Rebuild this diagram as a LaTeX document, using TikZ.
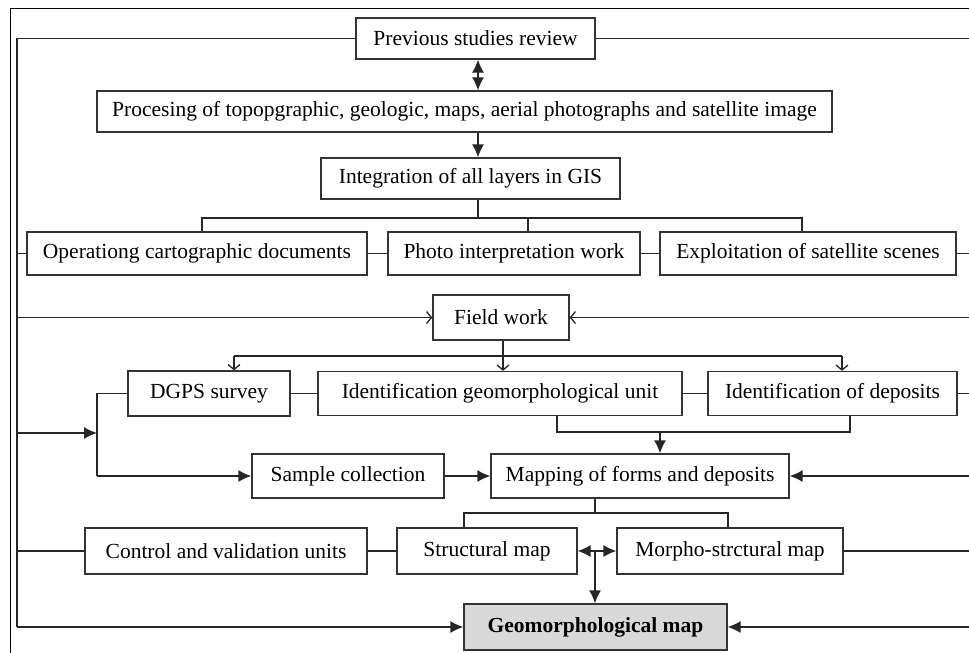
\documentclass[tikz,border=0pt]{standalone}
\usepackage{fontspec}
\setmainfont{Liberation Serif}
\usetikzlibrary{arrows.meta}
\begin{document}
\begin{tikzpicture}[x=1pt,y=-1pt,
  box/.style={draw=black!80,line width=1.3pt,fill=white,inner sep=0pt,
    font=\fontsize{21.5}{24}\selectfont},
  ln/.style={line width=1.3pt,draw=black!85},
  fa/.style={ln,-{Latex[length=13pt,width=12pt]}},
  fda/.style={ln,{Latex[length=13pt,width=12pt]}-{Latex[length=13pt,width=12pt]}},
  oa/.style={ln,-{Straight Barb[length=5pt,width=12pt]}}]
\useasboundingbox (0,0) rectangle (969,653);
\draw[line width=1pt] (10,653) -- (10,8) -- (969,8);
% nodes
\node[box,minimum width=239,minimum height=41] (prev) at (475.5,38.5) {Previous studies review};
\node[box,minimum width=735,minimum height=41] (proc) at (464.5,111.5) {Procesing of topopgraphic, geologic, maps, aerial photographs and satellite image};
\node[box,minimum width=299,minimum height=41] (integ) at (470.5,178.5) {Integration of all layers in GIS};
\node[box,minimum width=340,minimum height=43] (oper) at (197,253.5) {Operationg cartographic documents};
\node[box,minimum width=252,minimum height=43] (photo) at (514,253.5) {Photo interpretation work};
\node[box,minimum width=296,minimum height=43] (expl) at (808,253.5) {Exploitation of satellite scenes};
\node[box,minimum width=136,minimum height=45] (field) at (501,317.5) {Field work};
\node[box,minimum width=162,minimum height=45] (dgps) at (209,393.5) {DGPS survey};
\node[box,minimum width=364,minimum height=44] (idgeo) at (500,393.5) {Identification geomorphological unit};
\node[box,minimum width=249,minimum height=44] (iddep) at (832.5,393.5) {Identification of deposits};
\node[box,minimum width=192,minimum height=44] (sample) at (348,476) {Sample collection};
\node[box,minimum width=298,minimum height=44] (mapping) at (640,476) {Mapping of forms and deposits};
\node[box,minimum width=282,minimum height=46] (control) at (226,551) {Control and validation units};
\node[box,minimum width=180,minimum height=46] (struct) at (487,551) {Structural map};
\node[box,minimum width=226,minimum height=46] (morpho) at (730,551) {Morpho-strctural map};
\node[box,fill=black!15,minimum width=263,minimum height=46,font=\fontsize{21.5}{24}\selectfont\bfseries] (geo) at (595.5,627) {Geomorphological map};
% coordinates
\coordinate (L1) at (17,38.5);
\coordinate (LB) at (17,627);
\coordinate (R1) at (969,38.5);
\coordinate (ax) at (478,0);
\coordinate (t0) at (478,218);
\coordinate (t1) at (202,218);
\coordinate (t2) at (802,218);
\coordinate (t3) at (528,218);
\coordinate (f0) at (503,356);
\coordinate (f1) at (234,356);
\coordinate (f2) at (842,356);
\coordinate (d1) at (97,393.5);
\coordinate (d2) at (97,476);
\coordinate (d3) at (97,433);
\coordinate (g1) at (557,432);
\coordinate (g2) at (850,432);
\coordinate (g3) at (660,432);
\coordinate (m0) at (595,513);
\coordinate (m1) at (464,513);
\coordinate (m2) at (728,513);
\coordinate (s0) at (595,551);
% frame connectors
\draw[ln] (prev.west) -- (L1) -- (LB);
\draw[fa] (LB) -- (geo.west);
\draw[ln] (prev.east) -- (R1);
% top chain
\draw[fda] (prev.south -| ax) -- (proc.north -| ax);
\draw[fa] (proc.south -| ax) -- (integ.north -| ax);
\draw[ln] (integ.south -| ax) -- (t0);
\draw[ln] (oper.north -| t1) -- (t1) -- (t2) -- (expl.north -| t2);
\draw[ln] (t3) -- (photo.north -| t3);
% row 4
\draw[ln] (oper.west -| L1) -- (oper.west);
\draw[ln] (oper.east) -- (photo.west);
\draw[ln] (photo.east) -- (expl.west);
\draw[ln] (expl.east) -- (expl.east -| R1);
% field work
\draw[oa] (field.west -| L1) -- (field.west);
\draw[oa] (field.east -| R1) -- (field.east);
\draw[ln] (field.south -| f0) -- (f0);
\draw[ln] (f1) -- (f2);
\draw[oa] (f1) -- (dgps.north -| f1);
\draw[oa] (f0) -- (idgeo.north -| f0);
\draw[oa] (f2) -- (iddep.north -| f2);
% row 6
\draw[ln] (dgps.east) -- (idgeo.west);
\draw[ln] (idgeo.east) -- (iddep.west);
\draw[ln] (iddep.east) -- (iddep.east -| R1);
\draw[ln] (dgps.west) -- (d1) -- (d2);
\draw[fa] (d2) -- (sample.west);
\draw[fa] (d3 -| L1) -- (d3);
\draw[ln] (idgeo.south -| g1) -- (g1) -- (g2) -- (iddep.south -| g2);
\draw[fa] (g3) -- (mapping.north -| g3);
% row 7
\draw[fa] (sample.east) -- (mapping.west);
\draw[fa] (mapping.east -| R1) -- (mapping.east);
\draw[ln] (mapping.south -| m0) -- (m0);
\draw[ln] (struct.north -| m1) -- (m1) -- (m2) -- (morpho.north -| m2);
% row 8
\draw[ln] (control.west -| L1) -- (control.west);
\draw[ln] (control.east) -- (struct.west);
\draw[ln] (morpho.east) -- (morpho.east -| R1);
\draw[fda] (struct.east) -- (morpho.west);
\draw[fa] (s0) -- (geo.north -| s0);
\draw[fa] (geo.east -| R1) -- (geo.east);
\end{tikzpicture}
\end{document}
